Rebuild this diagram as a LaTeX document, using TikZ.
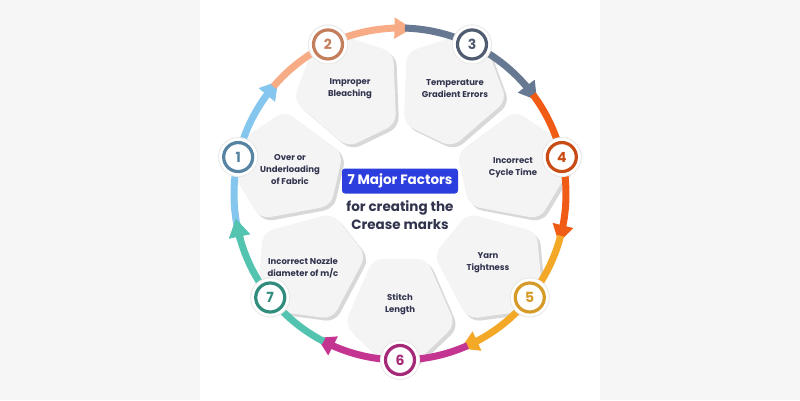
\documentclass[tikz,border=0pt]{standalone}
\usepackage{fontspec}
\setmainfont{Poppins}
\usepackage{xcolor}
\usepackage{tikz}
\usetikzlibrary{arrows.meta, bending, shadows, positioning}

\definecolor{bgout}{RGB}{246,246,246}
\definecolor{cardgray}{RGB}{244,244,245}
\definecolor{navy}{RGB}{50,52,78}
\definecolor{titleblue}{RGB}{44,62,222}
\definecolor{arcA}{RGB}{132,198,238}
\definecolor{ringA}{RGB}{86,132,162}
\definecolor{arcB}{RGB}{247,172,134}
\definecolor{ringB}{RGB}{196,126,92}
\definecolor{arcC}{RGB}{102,120,146}
\definecolor{ringC}{RGB}{80,92,112}
\definecolor{arcD}{RGB}{240,92,22}
\definecolor{ringD}{RGB}{200,76,22}
\definecolor{arcE}{RGB}{244,168,40}
\definecolor{ringE}{RGB}{214,154,40}
\definecolor{arcF}{RGB}{196,52,145}
\definecolor{ringF}{RGB}{166,40,120}
\definecolor{arcG}{RGB}{82,196,176}
\definecolor{ringG}{RGB}{48,140,124}

\begin{document}
\begin{tikzpicture}[x=1pt, y=1pt, thick,
  card/.style={fill=cardgray, rounded corners=10pt,
    drop shadow={opacity=0.3, shadow xshift=3pt, shadow yshift=-3pt}},
  label node/.style={align=center, text=navy, font=\fontsize{8.5}{12}\selectfont\bfseries},
  badge node/.style={circle, fill=white, line width=3.2pt, minimum size=29pt, inner sep=0pt,
    font=\fontsize{14}{14}\selectfont\bfseries,
    preaction={draw=black!9, line width=11pt}, preaction={draw=white, line width=9pt}},
  seg/.style={line width=7pt, -{Triangle[length=18pt, width=20pt]}}]

  % background
  \fill[bgout] (-400,-206) rectangle (400,194);
  \fill[white] (-200,-206) rectangle (200,194);
  \useasboundingbox (-400,-206) rectangle (400,194);

  % cards
  \fill[card] (189.64:70) -- (190.14:142) -- (167.14:184) -- (144.14:142) -- (144.64:70) -- cycle;
  \fill[card] (138.21:70) -- (138.71:142) -- (115.71:184) -- (92.71:142) -- (93.21:70) -- cycle;
  \fill[card] (86.79:70) -- (87.29:142) -- (64.29:184) -- (41.29:142) -- (41.79:70) -- cycle;
  \fill[card] (35.36:70) -- (35.86:142) -- (12.86:184) -- (-10.14:142) -- (-9.64:70) -- cycle;
  \fill[card] (-16.07:70) -- (-15.57:142) -- (-38.57:184) -- (-61.57:142) -- (-61.07:70) -- cycle;
  \fill[card] (-67.5:70) -- (-67:142) -- (-90:184) -- (-113:142) -- (-112.5:70) -- cycle;
  \fill[card] (-118.93:70) -- (-118.43:142) -- (-141.43:184) -- (-164.43:142) -- (-163.93:70) -- cycle;

  % labels
  \node[label node] (l1) at (-110,24) {Over or\\Underloading\\of Fabric};
  \node[label node] (l2) at (-50,105) {Improper\\Bleaching};
  \node[label node] (l3) at (55,105) {Temperature\\Gradient Errors};
  \node[label node] (l4) at (113,26) {Incorrect\\Cycle Time};
  \node[label node] (l5) at (88,-69) {Yarn\\Tightness};
  \node[label node] (l6) at (0,-110) {Stitch\\Length};
  \node[label node] (l7) at (-97,-74) {Incorrect Nozzle\\diameter of m/c};

  % ring
  \coordinate (s1) at (191.14:166);
  \coordinate (s2) at (139.71:166);
  \coordinate (s3) at (88.29:166);
  \coordinate (s4) at (36.86:166);
  \coordinate (s5) at (-14.57:166);
  \coordinate (s6) at (-66:166);
  \coordinate (s7) at (-117.43:166);
  \coordinate (h7) at (-164:166);
  \draw[seg, arcA] (s1) arc[start angle=191.14, end angle=137.14, radius=166pt];
  \draw[seg, arcB] (s2) arc[start angle=139.71, end angle=85.71, radius=166pt];
  \draw[seg, arcC] (s3) arc[start angle=88.29, end angle=34.29, radius=166pt];
  \draw[seg, arcD] (s4) arc[start angle=36.86, end angle=-17.14, radius=166pt];
  \draw[seg, arcE] (s5) arc[start angle=-14.57, end angle=-68.57, radius=166pt];
  \draw[seg, arcF] (s6) arc[start angle=-66, end angle=-120, radius=166pt];
  \draw[seg, arcG] (s7) arc[start angle=-117.43, end angle=-171.43, radius=166pt];
  \draw[seg, arcG] (h7) arc[start angle=-164, end angle=-171.43, radius=166pt];

  % badges
  \node[badge node, draw=ringA, text=ringA] (b1) at (167.14:166) {1};
  \node[badge node, draw=ringB, text=ringB] (b2) at (115.71:166) {2};
  \node[badge node, draw=ringC, text=ringC] (b3) at (64.29:166) {3};
  \node[badge node, draw=ringD, text=ringD] (b4) at (12.86:166) {4};
  \node[badge node, draw=ringE, text=ringE] (b5) at (-38.57:166) {5};
  \node[badge node, draw=ringF, text=ringF] (b6) at (-90:166) {6};
  \node[badge node, draw=ringG, text=ringG] (b7) at (-141.43:166) {7};

  % title
  \node[fill=titleblue, text=white, rounded corners=3pt, minimum width=116pt, minimum height=25pt,
    font=\fontsize{13.5}{13.5}\selectfont\bfseries] (title) at (0,13) {7 Major Factors};
  \node[align=center, text=navy, font=\fontsize{13.5}{18}\selectfont\bfseries]
    (sub) [below=3pt of title] {for creating the\\Crease marks};
\end{tikzpicture}
\end{document}
